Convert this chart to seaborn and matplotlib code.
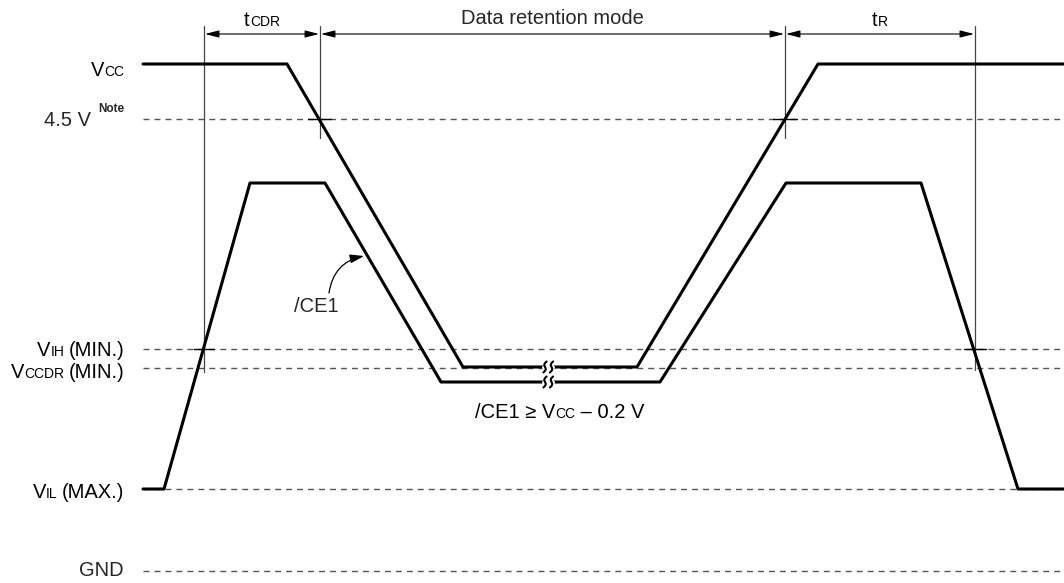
import matplotlib
matplotlib.use("Agg")
import numpy as np
import pandas as pd
import seaborn as sns
import matplotlib.pyplot as plt
from matplotlib.offsetbox import TextArea, HPacker, AnnotationBbox

# ---------------- data (diagram units = pixels of the reference) ----------------
vcc_x = [143, 287, 463, 637, 818, 1064]
vcc_y = [64, 64, 367, 367, 64, 64]

ce1_x = [143, 164, 250, 325, 441, 660, 786, 921, 1018, 1064]
ce1_y = [489, 489, 183, 183, 382, 382, 183, 183, 489, 489]

level_names = ["4.5V", "VIH", "VCCDR", "VIL", "GND"]
level_y = [119, 349, 368, 489, 571]

timing_x = [204, 320, 785, 975]
timing_bottom = [372, 138, 138, 370]

interval_labels = ["tCDR", "Data retention mode", "tR"]

# ---------------- figure ----------------
sns.set_theme(style="white")
plt.rcParams['font.family'] = ['Liberation Sans', 'DejaVu Sans']

fig = plt.figure(figsize=(10.64, 5.83), dpi=100)
ax = fig.add_axes([0, 0, 1, 1])

FS = 14.5
FS_SMALL = 10
LINE_X0 = 143

# dashed reference levels
for y in level_y:
    ax.plot([LINE_X0, 1064], [y, y], color='#555555', lw=1.0,
            linestyle=(0, (4.3, 3.6)), zorder=1)

# timing verticals
for x, yb in zip(timing_x, timing_bottom):
    ax.plot([x, x], [26, yb], color='#444444', lw=0.9, zorder=2)

# waveforms
df_vcc = pd.DataFrame({"x": vcc_x, "y": vcc_y})
df_ce = pd.DataFrame({"x": ce1_x, "y": ce1_y})
sns.lineplot(data=df_vcc, x="x", y="y", sort=False, estimator=None,
             color='black', lw=2.2, ax=ax, zorder=3)
sns.lineplot(data=df_ce, x="x", y="y", sort=False, estimator=None,
             color='black', lw=2.2, ax=ax, zorder=3)
ax.set_xlim(0, 1064)
ax.set_ylim(583, 0)
ax.axis('off')

# small crossing ticks
ax.plot([308, 331], [level_y[0], level_y[0]], color='black', lw=1.0, zorder=2)
ax.plot([773, 797], [level_y[0], level_y[0]], color='black', lw=1.0, zorder=2)
ax.plot([194, 214], [level_y[1], level_y[1]], color='black', lw=1.0, zorder=2)
ax.plot([964, 986], [level_y[1], level_y[1]], color='black', lw=1.0, zorder=2)

# interval arrows
ARROW_Y = 34
for x0, x1 in zip(timing_x[:-1], timing_x[1:]):
    ax.annotate('', xy=(x1 - 1, ARROW_Y), xytext=(x0 + 1, ARROW_Y),
                arrowprops=dict(arrowstyle='<|-|>,head_length=0.7,head_width=0.18',
                                color='black', lw=0.8, mutation_scale=12,
                                shrinkA=0, shrinkB=0))


def rich(x, y, parts, align=(1, 0.5)):
    children = [TextArea(t, textprops=dict(fontsize=s, color='black', fontweight=w))
                for t, s, w in parts]
    box = HPacker(children=children, align='baseline', pad=0, sep=0)
    ab = AnnotationBbox(box, (x, y), xycoords='data', box_alignment=align,
                        frameon=False, pad=0)
    ax.add_artist(ab)


N, S = 'normal', 'bold'
# interval labels
rich(262, 20, [("t", FS, N), ("CDR", FS_SMALL, N)], align=(0.5, 0.5))
ax.text(552, 19, interval_labels[1], fontsize=FS, ha='center', va='center')
rich(880, 20, [("t", FS, N), ("R", FS_SMALL, N)], align=(0.5, 0.5))

# level labels on the left
LX = 124
rich(LX, 71, [("V", FS, N), ("CC", FS_SMALL, N)])
ax.text(91, 120, "4.5 V", fontsize=FS, ha='right', va='center')
ax.text(LX, 109, "Note", fontsize=8.5, fontweight='bold', ha='right', va='center')
rich(LX, 350, [("V", FS, N), ("IH", FS_SMALL, N), (" ", FS_SMALL, N), ("(MIN.)", FS, N)])
rich(LX, 373, [("V", FS, N), ("CCDR", FS_SMALL, N), (" ", FS_SMALL, N), ("(MIN.)", FS, N)])
rich(LX, 492, [("V", FS, N), ("IL", FS_SMALL, N), (" ", FS_SMALL, N), ("(MAX.)", FS, N)])
ax.text(LX, 571, "GND", fontsize=FS, ha='right', va='center')

# /CE1 label with curved arrow
ax.text(316, 306, "/CE1", fontsize=FS, ha='center', va='center')
ax.annotate('', xy=(364, 256), xytext=(329, 293),
            arrowprops=dict(arrowstyle='-|>,head_length=0.7,head_width=0.22',
                            connectionstyle='arc3,rad=-0.35', color='black',
                            lw=0.9, mutation_scale=12, shrinkA=0, shrinkB=0))

# condition text
rich(560, 412, [("/CE1 \u2265 V", FS, N), ("CC", FS_SMALL, N), (" \u2013 0.2 V", FS, N)],
     align=(0.5, 0.5))

# break marks on the low plateaus
t = np.linspace(-1, 1, 40)
for yb in (367, 382):
    ax.plot([544, 552], [yb, yb], color='white', lw=3.5, zorder=4)
    for xc in (545, 551.5):
        xs = xc + 1.6 * t - 1.4 * np.sin(np.pi * t)
        ys = yb - 5.5 * t
        ax.plot(xs, ys, color='black', lw=1.5, zorder=5)

fig.savefig("out.png", dpi=100)
